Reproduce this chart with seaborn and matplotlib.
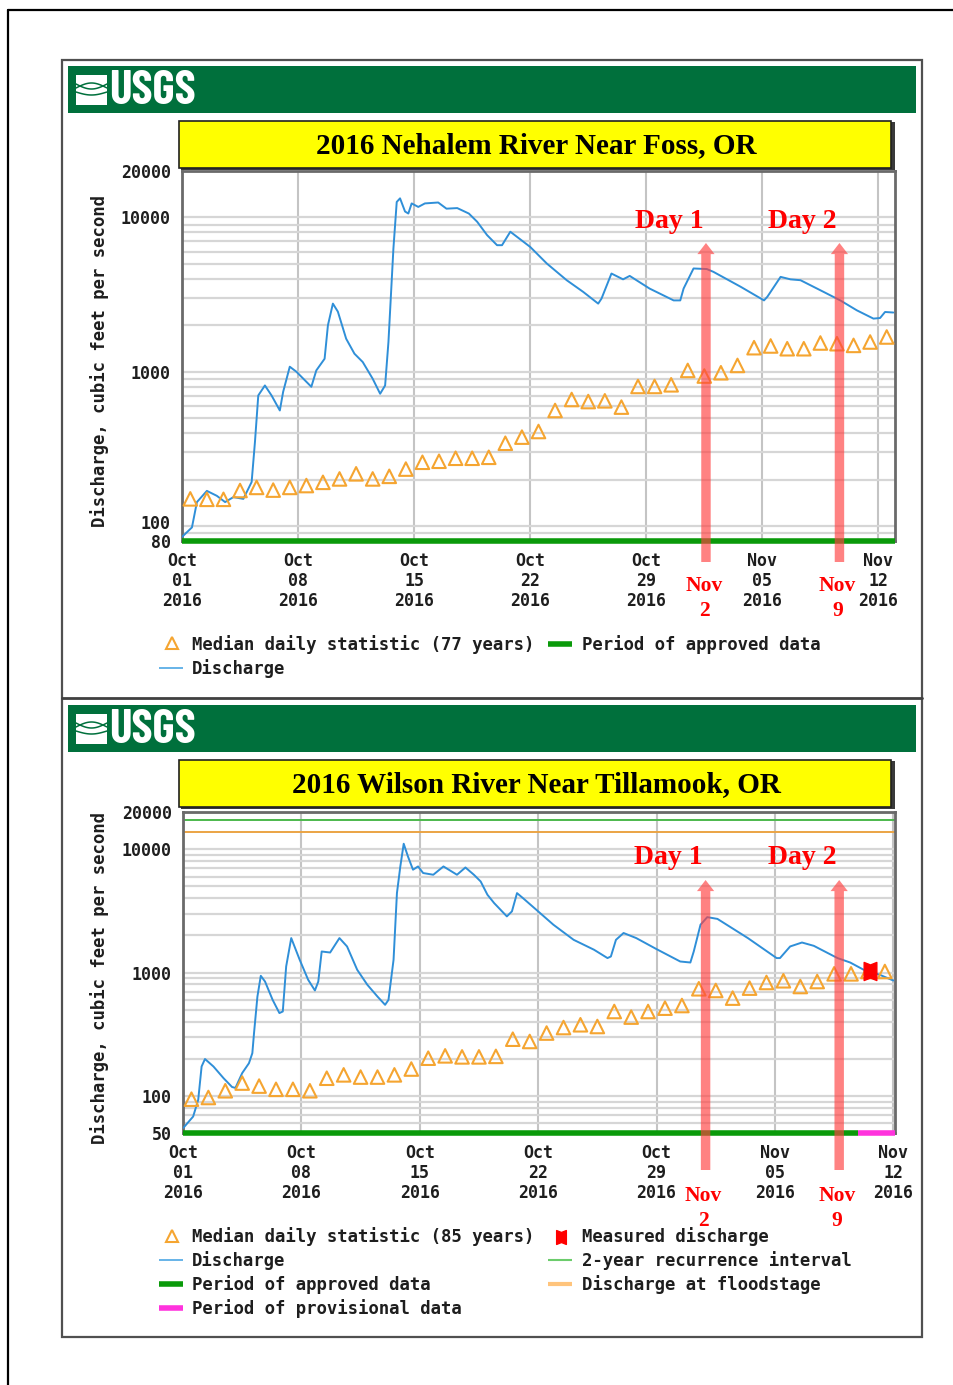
import numpy as np
import pandas as pd
import matplotlib
matplotlib.use("Agg")
import matplotlib.pyplot as plt
import matplotlib.dates as mdates
import matplotlib.transforms as mtrans
from matplotlib.lines import Line2D
from matplotlib.patches import Rectangle
from matplotlib.path import Path
from matplotlib.ticker import FixedLocator, LogLocator, NullFormatter
import seaborn as sns

# ---------------- data ----------------
START = pd.Timestamp("2016-10-01")

x_tick_dates = ["2016-10-01", "2016-10-08", "2016-10-15", "2016-10-22",
                "2016-10-29", "2016-11-05", "2016-11-12"]
x_tick_labels = ["Oct\n01\n2016", "Oct\n08\n2016", "Oct\n15\n2016", "Oct\n22\n2016",
                 "Oct\n29\n2016", "Nov\n05\n2016", "Nov\n12\n2016"]

# Nehalem River near Foss
neh_title = "2016 Nehalem River Near Foss, OR"
neh_yticks = [80, 100, 1000, 10000, 20000]
neh_ylim = [80, 20000]
neh_xlim_days = [0, 43]
neh_q_day = [0, 0.6, 0.9, 1.5, 2.1, 2.6, 3.1, 3.7, 4.2, 4.4, 4.6, 5.0, 5.4, 5.9, 6.1, 6.5,
             6.9, 7.8, 8.1, 8.6, 8.8, 9.1, 9.4, 9.9, 10.4, 10.9, 11.5, 11.95, 12.25, 12.45,
             12.75, 12.95, 13.15, 13.45, 13.65, 13.85, 14.25, 14.65, 15.45, 15.95, 16.6,
             17.3, 17.8, 18.4, 19.0, 19.3, 19.8, 21.0, 22.0, 23.2, 24.2, 25.1, 25.3, 25.9,
             26.6, 27.0, 28.2, 29.65, 30.05, 30.25, 30.85, 31.65, 32.05, 33.7, 35.1, 35.3,
             36.1, 36.7, 37.3, 38.7, 39.7, 40.7, 41.7, 42.1, 42.4, 42.9]
neh_q_cfs = [85, 98, 143, 169, 157, 143, 154, 150, 193, 351, 702, 815, 702, 561, 741, 1078,
             1000, 799, 1020, 1214, 2000, 2764, 2452, 1637, 1309, 1156, 901, 720, 815, 1558,
             6290, 12600, 13300, 10930, 10600, 12330, 11700, 12330, 12500, 11400, 11500,
             10600, 9380, 7680, 6610, 6610, 8080, 6440, 5030, 3920, 3290, 2764, 2980, 4330,
             3970, 4180, 3460, 2900, 2900, 3460, 4670, 4630, 4440, 3550, 2900, 3060,
             4120, 3970, 3920, 3290, 2900, 2500, 2210, 2230, 2440, 2420]
neh_median = [150, 149, 149, 170, 178, 171, 178, 183, 192, 202, 218, 202, 210, 234, 259,
              263, 275, 275, 279, 344, 377, 410, 561, 661, 641, 648, 590, 803, 803, 823,
              1020, 938, 985, 1099, 1432, 1469, 1410, 1410, 1536, 1520, 1482, 1559, 1680]
neh_approved_days = [0, 43]
neh_arrow_days = [31.6, 39.65]

# Wilson River near Tillamook
wil_title = "2016 Wilson River Near Tillamook, OR"
wil_yticks = [50, 100, 1000, 10000, 20000]
wil_ylim = [50, 20000]
wil_xlim_days = [0, 42.1]
wil_q_day = [0.02, 0.6, 0.9, 1.1, 1.3, 1.8, 2.4, 2.9, 3.1, 3.5, 3.9, 4.1, 4.2, 4.4, 4.6,
             4.85, 5.3, 5.7, 5.9, 6.1, 6.4, 6.9, 7.4, 7.8, 8.0, 8.2, 8.7, 9.25, 9.7, 10.3,
             10.9, 11.5, 11.95, 12.15, 12.45, 12.65, 12.85, 13.05, 13.3, 13.6, 13.9, 14.2,
             14.8, 15.4, 16.2, 16.7, 17.2, 17.6, 18.0, 18.4, 19.15, 19.45, 19.75, 20.1,
             21.0, 21.9, 23.1, 24.3, 25.1, 25.3, 25.6, 26.05, 26.8, 28.0, 29.4, 30.0, 30.2,
             30.6, 31.0, 31.6, 33.4, 35.1, 35.3, 35.9, 36.6, 37.3, 38.7, 39.45, 40.25,
             41.2, 42.0]
wil_q_cfs = [55, 68, 93, 173, 199, 173, 139, 118, 116, 153, 184, 222, 323, 638, 940,
             845, 600, 469, 483, 1119, 1901, 1268, 873, 715, 845, 1480, 1452, 1901, 1626, 1052,
             795, 638, 547, 600, 1268, 4400, 7240, 11060, 8730, 6810, 7240, 6400,
             6200, 7240, 6200, 7100, 6200, 5470, 4270, 3650, 2850, 3130, 4400, 4010,
             3130, 2440, 1840, 1530, 1309, 1348, 1840, 2090, 1901, 1547, 1228, 1205, 1480,
             2440, 2810, 2720, 1901, 1309, 1309, 1626, 1750, 1645, 1309, 1205, 1052,
             958, 861]
wil_median = [94, 97, 110, 127, 120, 113, 113, 110, 139, 148, 142, 142, 148, 165, 202,
              211, 207, 207, 209, 288, 276, 323, 358, 377, 365, 483, 435, 483, 514, 540,
              738, 715, 620, 747, 830, 857, 770, 845, 975, 975, 1019, 1019]
wil_measured_day = [40.6]
wil_measured_cfs = [1038]
wil_two_year = 17300
wil_floodstage = 13700
wil_approved_days = [0, 39.9]
wil_provisional_days = [39.9, 42.1]
wil_arrow_days = [30.9, 38.8]

arrow_labels = ["Day 1", "Day 2"]
arrow_dates = ["Nov\n2", "Nov\n9"]

# ---------------- style ----------------
sns.set_theme(style="white")
MONO = ["DejaVu Sans Mono"]
plt.rcParams["font.family"] = MONO

BLUE = "#2f8fd8"
ORANGE = "#f5a531"
GREEN_BAR = "#0a9a0a"
MAGENTA = "#ff33dd"
USGS_GREEN = "#00703c"
ARROW = "#ff4040"
TXT = "#1e1e1e"
FS = 12.4

W, H = 954, 1385
fig = plt.figure(figsize=(W / 100, H / 100), dpi=100)
fig.patch.set_facecolor("white")


def fx(x):
    return np.asarray(x) / W


def fy(y):
    return 1 - np.asarray(y) / H


def rect(x0, y0, x1, y1):
    return [fx(x0), fy(y1), (x1 - x0) / W, (y1 - y0) / H]


def to_dates(days):
    return START + pd.to_timedelta(np.asarray(days, dtype=float), unit="D")


def fline(x0, x1, y0, y1, **kw):
    fig.add_artist(Line2D([fx(x0), fx(x1)], [fy(y0), fy(y1)], transform=fig.transFigure, **kw))


bowtie = Path([(-0.7, -1), (0, -0.72), (0.7, -1), (0.7, 1), (0, 0.72), (-0.7, 1), (-0.7, -1)],
              [Path.MOVETO] + [Path.LINETO] * 5 + [Path.CLOSEPOLY])

# page frame
fline(8, 8, 10, H, color="black", lw=1.6)
fline(8, W, 10, 10, color="black", lw=1.6)
# panel frame
fig.add_artist(Rectangle((fx(62), fy(1337)), (922 - 62) / W, (1337 - 60) / H,
                         transform=fig.transFigure, fill=False, ec="#505050", lw=1.6))
fline(62, 922, 698, 698, color="#404040", lw=2.0)


def header(y0, title):
    # green USGS banner
    fig.add_artist(Rectangle((fx(68), fy(y0 + 47)), (916 - 68) / W, 47 / H,
                             transform=fig.transFigure, fc=USGS_GREEN, ec="none"))
    # logo icon
    fig.add_artist(Rectangle((fx(76), fy(y0 + 39)), 31 / W, 30 / H,
                             transform=fig.transFigure, fc="white", ec="none"))
    t = np.linspace(0, 1, 40)
    for k, amp in enumerate([5, -5, 3]):
        xs = 76 + 31 * t
        ys = y0 + 22 + (k - 1) * 4 + amp * np.sin(np.pi * t)
        fig.add_artist(Line2D(fx(xs), fy(ys), transform=fig.transFigure,
                              color=USGS_GREEN, lw=1.1))
    fig.text(fx(109), fy(y0 + 25), "USGS", color="white", fontsize=34,
             fontweight="bold",
             family=["Barlow Condensed", "Archivo Narrow", "Asap Condensed", "Liberation Sans"],
             ha="left", va="center")
    # yellow title box with dark edge
    fig.add_artist(Rectangle((fx(181), fy(y0 + 104)), (893 - 179) / W, 48 / H,
                             transform=fig.transFigure, fc="#3a3a3a", ec="none"))
    fig.add_artist(Rectangle((fx(179), fy(y0 + 102)), (891 - 179) / W, 47 / H,
                             transform=fig.transFigure, fc="#ffff00", ec="#202020", lw=1.2))
    fig.text(fx(536), fy(y0 + 80), title, fontsize=21, fontweight="bold",
             family=["Liberation Serif"], ha="center", va="center", color="black")


def make_panel(box, q_day, q_cfs, med, ylim, yticks, xlim_days, approved,
               ylabel_y, provisional=None):
    ax = fig.add_axes(rect(*box))
    sns.lineplot(x=to_dates(q_day), y=q_cfs, ax=ax, color=BLUE, lw=1.4,
                 estimator=None, sort=False, legend=False, zorder=3)
    med_dates = pd.date_range(START + pd.Timedelta(hours=12), periods=len(med), freq="D")
    sns.scatterplot(x=med_dates, y=med, ax=ax, marker="^", s=95, facecolor="none",
                    edgecolor=ORANGE, linewidth=1.5, legend=False, zorder=4)
    ax.set_yscale("log")
    ax.set_ylim(*ylim)
    xl = to_dates(xlim_days)
    ax.set_xlim(xl[0], xl[1])
    ax.yaxis.set_major_locator(FixedLocator(yticks))
    ax.set_yticklabels([str(v) for v in yticks])
    ax.yaxis.set_minor_locator(LogLocator(base=10, subs=np.arange(1, 10)))
    ax.yaxis.set_minor_formatter(NullFormatter())
    ax.set_xticks(pd.to_datetime(x_tick_dates))
    ax.set_xticklabels(x_tick_labels, linespacing=1.15)
    ax.tick_params(axis="both", which="both", length=0, labelsize=12, labelcolor=TXT)
    ax.tick_params(axis="x", pad=8)
    ax.tick_params(axis="y", pad=8)
    for lab in ax.get_xticklabels() + ax.get_yticklabels():
        lab.set_fontweight("bold")
    ax.grid(True, which="both", axis="y", color="#d6d6d6", lw=1.6)
    ax.grid(True, which="major", axis="x", color="#c4c4c4", lw=1.5)
    ax.set_axisbelow(True)
    for sp in ax.spines.values():
        sp.set_color("#6a6a6a")
        sp.set_linewidth(2)
    ax.set_xlabel("")
    ax.set_ylabel("")
    ad = to_dates(approved)
    ax.plot([ad[0], ad[1]], [ylim[0], ylim[0]], color=GREEN_BAR, lw=4,
            solid_capstyle="butt", clip_on=False, zorder=6)
    if provisional is not None:
        pv = to_dates(provisional)
        ax.plot([pv[0], pv[1]], [ylim[0], ylim[0]], color=MAGENTA, lw=4,
                solid_capstyle="butt", clip_on=False, zorder=6)
    fig.text(fx(100), fy(ylabel_y), "Discharge, cubic feet per second", rotation=90,
             ha="center", va="center", fontsize=FS, fontweight="bold", color=TXT)
    return ax


def nudge_low_labels(ax):
    # the "100" label sits just above the bottom "80" label in the original
    fig.canvas.draw()
    labs = ax.get_yticklabels()
    labs[1].set_transform(labs[1].get_transform() +
                          mtrans.ScaledTranslation(0, 3.0 / 72, fig.dpi_scale_trans))


def add_arrows(ax, days, xlim_days, y_bot_px, y_top_px, box, lab_y_px, date_y_px):
    x0, y0, x1, y1 = box
    for d, lab, dl in zip(days, arrow_labels, arrow_dates):
        xd = mdates.date2num(to_dates([d])[0])
        fb = (y1 - y_bot_px) / (y1 - y0)
        ft = (y1 - y_top_px) / (y1 - y0)
        ax.annotate("", xy=(xd, ft), xytext=(xd, fb), xycoords=("data", "axes fraction"),
                    textcoords=("data", "axes fraction"), annotation_clip=False,
                    arrowprops=dict(arrowstyle="simple,head_width=0.62,head_length=0.4,tail_width=0.34",
                                    mutation_scale=20, color=ARROW, alpha=0.65, lw=0,
                                    shrinkA=0, shrinkB=0), zorder=8)
        px = x0 + (d - xlim_days[0]) / (xlim_days[1] - xlim_days[0]) * (x1 - x0)
        fig.text(fx(px - 37), fy(lab_y_px), lab, color="red", fontsize=20, fontweight="bold",
                 family=["Liberation Serif"], ha="center", va="center")
        fig.text(fx(px - 2), fy(date_y_px), dl, color="red", fontsize=15.5, fontweight="bold",
                 family=["Liberation Serif"], ha="center", va="top", linespacing=1.3)


# ---------------- top panel ----------------
header(66, neh_title)
box1 = (182, 171, 895, 541)
ax1 = make_panel(box1, neh_q_day, neh_q_cfs, neh_median, neh_ylim, neh_yticks,
                 neh_xlim_days, neh_approved_days, 361)
add_arrows(ax1, neh_arrow_days, neh_xlim_days, 562, 243, box1, 222, 576)

# ---------------- bottom panel ----------------
header(705, wil_title)
box2 = (183, 812, 895, 1133)
ax2 = make_panel(box2, wil_q_day, wil_q_cfs, wil_median, wil_ylim, wil_yticks,
                 wil_xlim_days, wil_approved_days, 978,
                 provisional=wil_provisional_days)
ax2.axhline(wil_two_year, color="#4cb84c", lw=1.4, zorder=2)
ax2.axhline(wil_floodstage, color="#eba444", lw=1.4, zorder=2)
ax2.scatter(to_dates(wil_measured_day), wil_measured_cfs, marker=bowtie, s=170,
            color="red", zorder=7)
add_arrows(ax2, wil_arrow_days, wil_xlim_days, 1170, 880, box2, 858, 1186)

nudge_low_labels(ax1)

# ---------------- legends ----------------
LEG = dict(fontsize=FS, fontweight="bold", color=TXT, ha="left", va="center")


def leg_line(x0, x1, y, **kw):
    fline(x0, x1, y, y, solid_capstyle="butt", **kw)


def leg_marker(x, y, **kw):
    fig.add_artist(Line2D([fx(x)], [fy(y)], transform=fig.transFigure, ls="none", **kw))


# top
leg_marker(172, 643, marker="^", mfc="none", mec=ORANGE, ms=9, mew=1.5)
fig.text(fx(192), fy(645), "Median daily statistic (77 years)", **LEG)
leg_line(548, 572, 644, color=GREEN_BAR, lw=4)
fig.text(fx(582), fy(645), "Period of approved data", **LEG)
leg_line(159, 183, 668, color="#5aaee6", lw=1.3)
fig.text(fx(192), fy(669), "Discharge", **LEG)

# bottom
leg_marker(172, 1236, marker="^", mfc="none", mec=ORANGE, ms=9, mew=1.5)
fig.text(fx(192), fy(1237), "Median daily statistic (85 years)", **LEG)
leg_marker(561, 1237, marker=bowtie, color="red", ms=10)
fig.text(fx(582), fy(1237), "Measured discharge", **LEG)
leg_line(159, 183, 1260, color="#5aaee6", lw=1.3)
fig.text(fx(192), fy(1261), "Discharge", **LEG)
leg_line(548, 572, 1260, color="#6ccc6c", lw=1.5)
fig.text(fx(582), fy(1261), "2-year recurrence interval", **LEG)
leg_line(159, 183, 1284, color=GREEN_BAR, lw=4)
fig.text(fx(192), fy(1285), "Period of approved data", **LEG)
leg_line(548, 572, 1284, color="#ffc47c", lw=3)
fig.text(fx(582), fy(1285), "Discharge at floodstage", **LEG)
leg_line(159, 183, 1308, color=MAGENTA, lw=4)
fig.text(fx(192), fy(1309), "Period of provisional data", **LEG)

fig.savefig("out.png", dpi=100)
